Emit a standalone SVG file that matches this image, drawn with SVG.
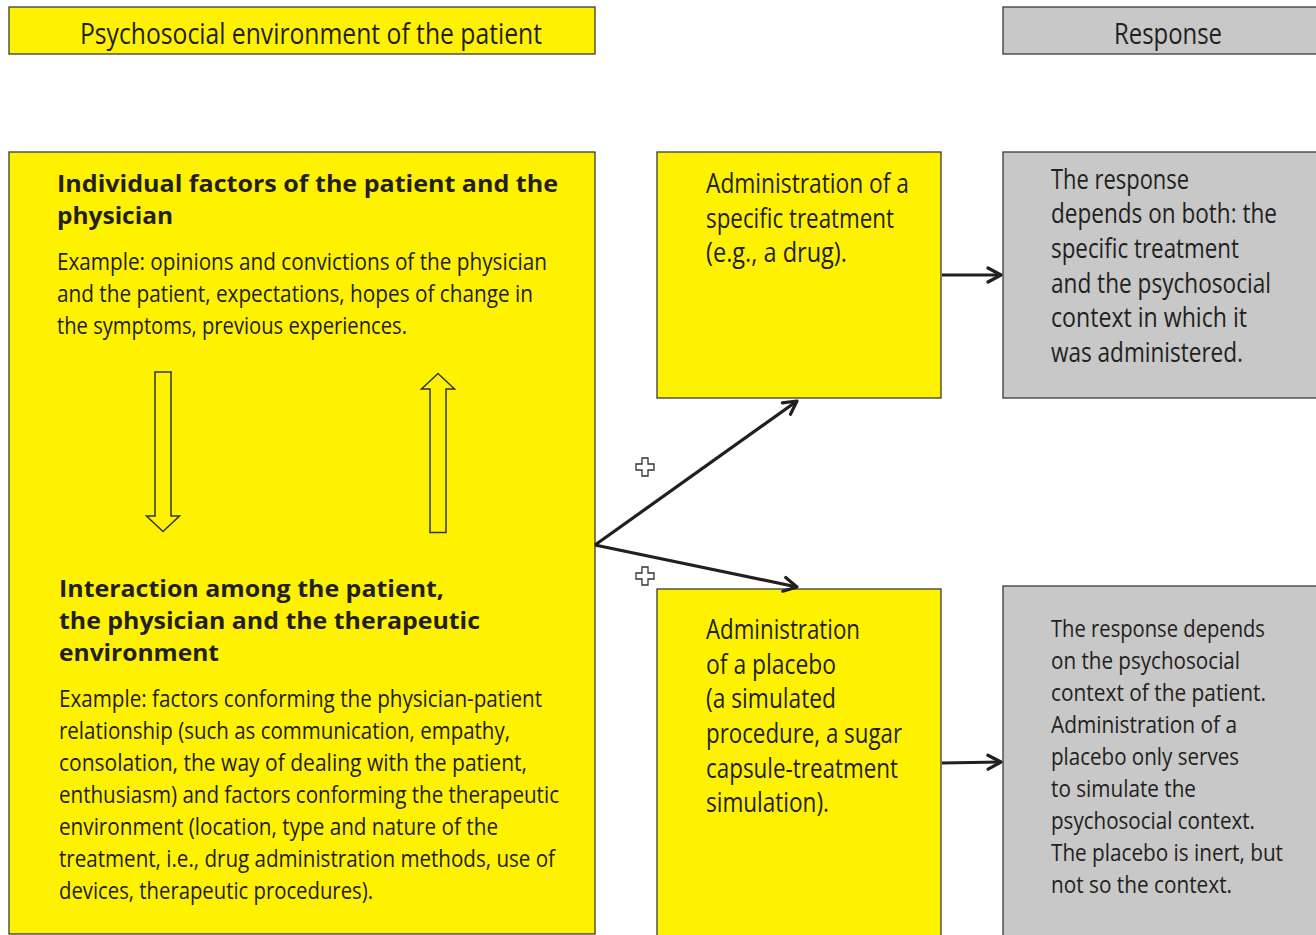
<svg xmlns="http://www.w3.org/2000/svg" width="1316" height="935" viewBox="0 0 1316 935">
<defs>
<style>
.y{fill:#FFF200;stroke:#3a3a3a;stroke-width:1.3}
.g{fill:#C8C8C8;stroke:#3a3a3a;stroke-width:1.3}
.t{font-family:"Open Sans","Noto Sans",sans-serif;fill:#231f20;font-size:27px}
.s{font-size:24px}
.h{font-size:30px}
.b{font-family:"Open Sans","Noto Sans",sans-serif;fill:#231f20;font-size:24px;font-weight:bold}
.c{stroke:#231f20;stroke-width:3.2;fill:none}
.ho{fill:#FFF200;stroke:#333;stroke-width:1.5}
.p{fill:#fff;stroke:#333;stroke-width:1.3}
</style>
<marker id="ah" viewBox="0 0 18 18" refX="16" refY="9" markerWidth="18" markerHeight="18" markerUnits="userSpaceOnUse" orient="auto">
<path d="M3,2 L16,9 L3,16" fill="none" stroke="#231f20" stroke-width="3.2" stroke-linecap="round" stroke-linejoin="round"/>
</marker>
</defs>
<rect width="1316" height="935" fill="#fff"/>

<g id="header-left">
<rect class="y" x="9" y="7" width="586" height="47"/>
<text class="t h" x="80" y="44" textLength="462" lengthAdjust="spacingAndGlyphs">Psychosocial environment of the patient</text>
</g>
<g id="header-right">
<rect class="g" x="1003" y="7" width="320" height="47"/>
<text class="t h" x="1114" y="44" textLength="108" lengthAdjust="spacingAndGlyphs">Response</text>
</g>

<g id="factors">
<rect class="y" x="9" y="152" width="586" height="782"/>
<text class="b" x="57" y="192" textLength="501" lengthAdjust="spacingAndGlyphs">Individual factors of the patient and the</text>
<text class="b" x="57" y="224" textLength="116" lengthAdjust="spacingAndGlyphs">physician</text>
<text class="t s" x="57" y="270" textLength="490" lengthAdjust="spacingAndGlyphs">Example: opinions and convictions of the physician</text>
<text class="t s" x="57" y="302" textLength="476" lengthAdjust="spacingAndGlyphs">and the patient, expectations, hopes of change in</text>
<text class="t s" x="57" y="334" textLength="350" lengthAdjust="spacingAndGlyphs">the symptoms, previous experiences.</text>
<path class="ho" d="M155,372 H171 V516 H179.5 L163,531.5 L146.5,516 H155 Z"/>
<path class="ho" d="M430,532.5 H446 V389 H454.5 L438,373.5 L421.5,389 H430 Z"/>
<text class="b" x="59" y="597" textLength="385" lengthAdjust="spacingAndGlyphs">Interaction among the patient,</text>
<text class="b" x="59" y="629" textLength="421" lengthAdjust="spacingAndGlyphs">the physician and the therapeutic</text>
<text class="b" x="59" y="661" textLength="160" lengthAdjust="spacingAndGlyphs">environment</text>
<text class="t s" x="59" y="707" textLength="483" lengthAdjust="spacingAndGlyphs">Example: factors conforming the physician-patient</text>
<text class="t s" x="59" y="739" textLength="451" lengthAdjust="spacingAndGlyphs">relationship (such as communication, empathy,</text>
<text class="t s" x="59" y="771" textLength="468" lengthAdjust="spacingAndGlyphs">consolation, the way of dealing with the patient,</text>
<text class="t s" x="59" y="803" textLength="500" lengthAdjust="spacingAndGlyphs">enthusiasm) and factors conforming the therapeutic</text>
<text class="t s" x="59" y="835" textLength="439" lengthAdjust="spacingAndGlyphs">environment (location, type and nature of the</text>
<text class="t s" x="59" y="867" textLength="496" lengthAdjust="spacingAndGlyphs">treatment, i.e., drug administration methods, use of</text>
<text class="t s" x="59" y="899" textLength="314" lengthAdjust="spacingAndGlyphs">devices, therapeutic procedures).</text>
</g>

<g id="specific">
<rect class="y" x="657" y="152" width="284" height="246"/>
<text class="t" x="706" y="193" textLength="203" lengthAdjust="spacingAndGlyphs">Administration of a</text>
<text class="t" x="706" y="228" textLength="188" lengthAdjust="spacingAndGlyphs">specific treatment</text>
<text class="t" x="706" y="262" textLength="141" lengthAdjust="spacingAndGlyphs">(e.g., a drug).</text>
</g>

<g id="placebo">
<rect class="y" x="657" y="589" width="284" height="360"/>
<text class="t" x="706" y="639" textLength="154" lengthAdjust="spacingAndGlyphs">Administration</text>
<text class="t" x="706" y="674" textLength="130" lengthAdjust="spacingAndGlyphs">of a placebo</text>
<text class="t" x="706" y="708" textLength="130" lengthAdjust="spacingAndGlyphs">(a simulated</text>
<text class="t" x="706" y="743" textLength="196" lengthAdjust="spacingAndGlyphs">procedure, a sugar</text>
<text class="t" x="706" y="778" textLength="192" lengthAdjust="spacingAndGlyphs">capsule-treatment</text>
<text class="t" x="706" y="812" textLength="123" lengthAdjust="spacingAndGlyphs">simulation).</text>
</g>

<g id="response-specific">
<rect class="g" x="1003" y="152" width="320" height="246"/>
<text class="t" x="1051" y="189" textLength="138" lengthAdjust="spacingAndGlyphs">The response</text>
<text class="t" x="1051" y="223" textLength="226" lengthAdjust="spacingAndGlyphs">depends on both: the</text>
<text class="t" x="1051" y="258" textLength="188" lengthAdjust="spacingAndGlyphs">specific treatment</text>
<text class="t" x="1051" y="293" textLength="220" lengthAdjust="spacingAndGlyphs">and the psychosocial</text>
<text class="t" x="1051" y="327" textLength="196" lengthAdjust="spacingAndGlyphs">context in which it</text>
<text class="t" x="1051" y="362" textLength="192" lengthAdjust="spacingAndGlyphs">was administered.</text>
</g>

<g id="response-placebo">
<rect class="g" x="1003" y="586" width="320" height="360"/>
<text class="t s" x="1051" y="637" textLength="214" lengthAdjust="spacingAndGlyphs">The response depends</text>
<text class="t s" x="1051" y="669" textLength="189" lengthAdjust="spacingAndGlyphs">on the psychosocial</text>
<text class="t s" x="1051" y="701" textLength="215" lengthAdjust="spacingAndGlyphs">context of the patient.</text>
<text class="t s" x="1051" y="733" textLength="186" lengthAdjust="spacingAndGlyphs">Administration of a</text>
<text class="t s" x="1051" y="765" textLength="188" lengthAdjust="spacingAndGlyphs">placebo only serves</text>
<text class="t s" x="1051" y="797" textLength="145" lengthAdjust="spacingAndGlyphs">to simulate the</text>
<text class="t s" x="1051" y="829" textLength="204" lengthAdjust="spacingAndGlyphs">psychosocial context.</text>
<text class="t s" x="1051" y="861" textLength="232" lengthAdjust="spacingAndGlyphs">The placebo is inert, but</text>
<text class="t s" x="1051" y="893" textLength="181" lengthAdjust="spacingAndGlyphs">not so the context.</text>
</g>

<g id="connectors">
<line class="c" x1="595" y1="545" x2="797" y2="401" marker-end="url(#ah)"/>
<line class="c" x1="595" y1="545" x2="797" y2="587" marker-end="url(#ah)"/>
<line class="c" x1="942" y1="275" x2="1001" y2="275" marker-end="url(#ah)"/>
<line class="c" x1="942" y1="763" x2="1001" y2="762" marker-end="url(#ah)"/>
<path class="p" d="M642,458 h6 v6 h6 v6 h-6 v6 h-6 v-6 h-6 v-6 h6 Z"/>
<path class="p" d="M642,567 h6 v6 h6 v6 h-6 v6 h-6 v-6 h-6 v-6 h6 Z"/>
</g>
</svg>
